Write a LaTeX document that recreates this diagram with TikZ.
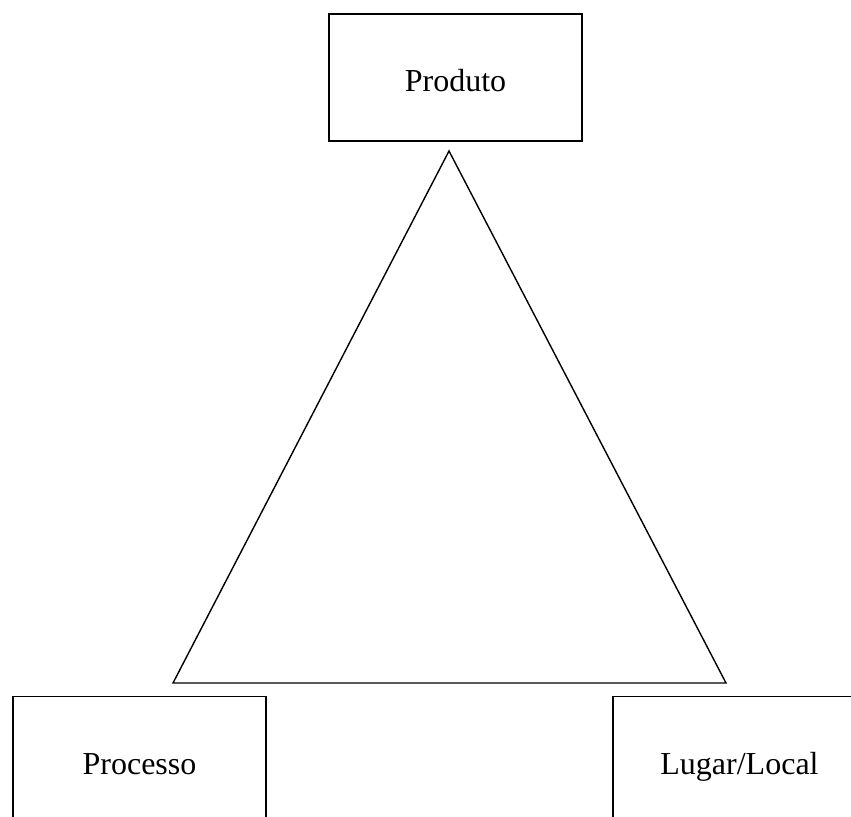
\documentclass[tikz,border=0pt]{standalone}
\usepackage{fontspec}
\setmainfont{Liberation Serif}
\begin{document}
\begin{tikzpicture}[x=0.5pt, y=-0.5pt,
  every node/.style={font=\fontsize{16pt}{19pt}\selectfont},
  labelbox/.style={draw, line width=0.9pt, minimum width=126.5pt, minimum height=63.5pt,
    inner sep=0pt, text height=14pt, text depth=0pt},
  edge/.style={line width=0.7pt, line join=miter}]
  \useasboundingbox (0,0) rectangle (851,816);
  \clip (0,0) rectangle (851,816);

  % the three corner boxes
  \node[labelbox] (produto)  at (455.5,77.5)  {Produto};
  \node[labelbox] (processo) at (139.5,760)   {Processo};
  \node[labelbox] (lugar)    at (739.5,760)   {Lugar/Local};

  % central triangle
  \coordinate (apex)  at (449,151);
  \coordinate (left)  at (173,683);
  \coordinate (right) at (726,683);
  \draw[edge] (apex) -- (left) -- (right) -- cycle;
\end{tikzpicture}
\end{document}
